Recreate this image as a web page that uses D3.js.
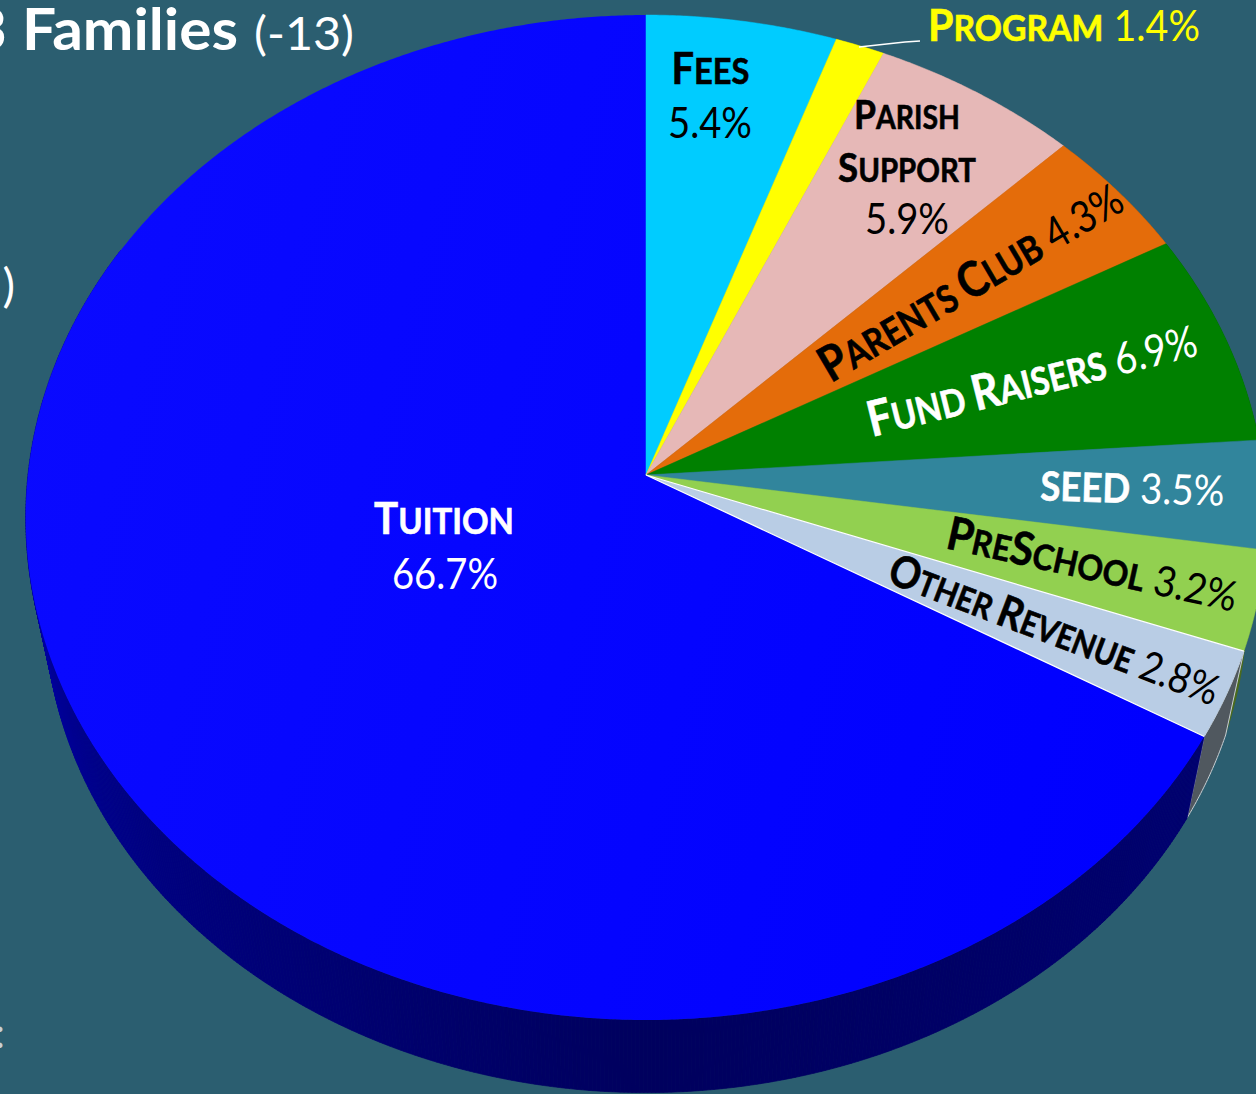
<!DOCTYPE html>
<html>
<head>
<meta charset="utf-8">
<script src="https://cdn.jsdelivr.net/npm/d3@7"></script>
<style>
html,body{margin:0;padding:0;background:#2b5e70;overflow:hidden}
svg{display:block}
text{font-family:Lato,"Open Sans",sans-serif}
.cap{text-transform:uppercase}
</style>
</head>
<body>
<svg id="c" width="1256" height="1094"></svg>
<script>
const categories = ["Fees","Program","Parish Support","Parents Club","Fund Raisers","SEED","PreSchool","Other Revenue","Tuition"];
const shares = [5.4,1.4,5.9,4.3,6.9,3.5,3.2,2.8,66.7];
const topColors = ["#00ccff","#ffff00","#e6b8b7","#e46c0a","#008000","#31859c","#92d050","#b9cde5","url(#tuitionFace)"];
const wallColors = ["#006680","#808000","#73605c","#723605","#004000","#194350","#4a6a1e","#50585f",null];
const edgeColors = [null,null,null,null,null,null,null,"#ffffff",null];

const W = 1256, H = 1094;
const svg = d3.select("#c");
svg.append("rect").attr("width",W).attr("height",H).attr("fill","#2b5e70");
const grad = svg.append("defs").append("linearGradient").attr("id","tuitionFace")
  .attr("gradientUnits","userSpaceOnUse").attr("x1",25).attr("x2",1200).attr("y1",300).attr("y2",600);
grad.append("stop").attr("offset",0).attr("stop-color","#0a0aff");
grad.append("stop").attr("offset",1).attr("stop-color","#0000ff");

/* Projection of the tilted disc (a perspective view of a unit circle). */
const cx = 646, apexY = 475, R = 618, k = 0.0846, b = -458.7;
const vp = [646, 3400], depth = 0.0305;
function upper(a, r = 1) {
  const u = r * Math.sin(a), v = r * Math.cos(a), w = 1 + k * v;
  return [cx + R * u / w, (apexY + b * v) / w];
}
function lower(a) {
  const p = upper(a);
  return [p[0] + (vp[0] - p[0]) * depth, p[1] + (vp[1] - p[1]) * depth];
}
const arcs = d3.pie().sort(null).value(d => d)(shares);
const line = d3.line();
const samples = (s, e) => {
  const n = Math.max(2, Math.ceil((e - s) / 0.006));
  return d3.range(n + 1).map(i => s + (e - s) * i / n);
};

/* Side walls */
const tuitionWall = d3.scaleLinear()
  .domain([2.1, 3.14, 4.0, 4.6, 5.0])
  .range(["#000070", "#00005e", "#000080", "#0000a4", "#0000c0"]);
const walls = svg.append("g");
arcs.forEach((d, i) => {
  if (wallColors[i]) {
    const as = samples(d.startAngle, d.endAngle);
    walls.append("path")
      .attr("d", line(as.map(a => upper(a)).concat(as.slice().reverse().map(lower))) + "Z")
      .attr("fill", wallColors[i])
      .attr("stroke", edgeColors[i] ? "#c8ced2" : "none")
      .attr("stroke-width", 1);
  } else {
    const as = samples(d.startAngle, Math.min(d.endAngle, 5.2));
    d3.pairs(as).forEach(([a0, a1]) => {
      walls.append("path")
        .attr("d", line([upper(a0), upper(a1), lower(a1), lower(a0)]) + "Z")
        .attr("fill", tuitionWall((a0 + a1) / 2))
        .attr("stroke", tuitionWall((a0 + a1) / 2))
        .attr("stroke-width", 0.7);
    });
  }
});

/* Top faces */
const face = svg.append("g");
const order = [8,0,1,2,3,4,5,6,7];
order.forEach(i => {
  const d = arcs[i];
  face.append("path")
    .attr("d", line([upper(0, 0)].concat(samples(d.startAngle, d.endAngle).map(a => upper(a)))) + "Z")
    .attr("fill", topColors[i])
    .attr("stroke", edgeColors[i] || i === 8 ? null : topColors[i])
    .attr("stroke-width", 0.5);
});
{
  const d = arcs[7], c = upper(0, 0);
  face.append("path")
    .attr("d", line([upper(d.startAngle), c, upper(d.endAngle)]))
    .attr("fill", "none").attr("stroke", "#ffffff").attr("stroke-width", 1.2);
}

/* Leader line for the Program slice */
svg.append("path").attr("d", d3.line().curve(d3.curveLinear)([[859,47],[905,42],[920,41]]))
  .attr("fill","none").attr("stroke","#ffffff").attr("stroke-width",1.6);

/* Labels: runs are [text, size, bold]; a run is drawn in capitals. */
const BIG = 44, SMALL = 36, NUM = 42;
function run(t, big, small) {
  // Capital letters stay large, lower-case ones become small capitals.
  return t.split(/(?<=[a-z ])(?=[A-Z])|(?<=[A-Z])(?=[a-z])/).map(s => [s, /^[A-Z]+$/.test(s) ? big : small, true]);
}
function label(g, x, y, rot, width, runs, fill) {
  const t = g.append("text").attr("text-anchor","start").attr("fill",fill);
  runs.forEach(([s, size, bold]) => {
    const sp = t.append("tspan").attr("class","cap").attr("font-size",size)
      .attr("font-weight", bold ? 700 : 400).style("white-space","pre").text(s);
    if (bold) sp.attr("stroke",fill).attr("stroke-width",0.6);
  });
  const len = t.node().getComputedTextLength();
  const sx = width / len;
  t.attr("transform", `translate(${x},${y}) rotate(${rot}) scale(${sx},1) translate(${-len/2},0)`);
  return t;
}
const lab = svg.append("g");
label(lab, 444, 534, 0, 140, run("Tuition",BIG,SMALL), "#fff");
label(lab, 445, 589, 0, 106, [["66.7%",NUM,false]], "#fff");
label(lab, 710.5, 84, 0, 78, run("Fees",BIG,SMALL), "#000");
label(lab, 710, 138, 0, 84, [["5.4%",NUM,false]], "#000");
label(lab, 1064, 41, 0, 272, run("Program",BIG,SMALL).concat([[" 1.4%",NUM,false]]), "#ffff00");
label(lab, 907, 129, 0, 106, run("Parish",40,32), "#000");
label(lab, 907, 182, 0, 138, run("Support",40,32), "#000");
label(lab, 907, 234, 0, 84, [["5.9%",NUM,false]], "#000");
label(lab, 979, 296, -30.5, 344, run("Parents Club",49,38).concat([[" 4.3%",NUM+2,false]]), "#000");
label(lab, 1036, 396, -14, 338, run("Fund Raisers",49,38).concat([[" 6.9%",NUM+2,false]]), "#fff");
label(lab, 1132, 503, 1.7, 184, [["SEED",40,true],[" 3.5%",NUM,false]], "#fff");
label(lab, 1089, 580, 12.5, 296, [["P",46,true],["re",35,true],["S",46,true],["chool",35,true],[" 3.2%",NUM,false]], "#000");
label(lab, 1049, 644, 20.8, 350, run("Other Revenue",44,34).concat([[" 2.8%",NUM,false]]), "#000");

/* Text of the slide behind the chart, cut by the picture edge */
const slide = svg.append("g").attr("fill","#fff");
slide.append("text").attr("x",7).attr("y",50).attr("text-anchor","end").attr("font-size",58).attr("font-weight",700).text("3");
slide.append("text").attr("x",22).attr("y",50).attr("font-size",58).attr("font-weight",700).attr("textLength",216).attr("lengthAdjust","spacingAndGlyphs").text("Families");
slide.append("text").attr("x",254).attr("y",50).attr("font-size",47).attr("textLength",100).attr("lengthAdjust","spacingAndGlyphs").text("(-13)");
slide.append("text").attr("x",15).attr("y",302).attr("text-anchor","end").attr("font-size",47).text(")");
slide.append("text").attr("x",5).attr("y",1048).attr("text-anchor","end").attr("font-size",42).attr("fill","#c8d0d4").text(":");
</script>
</body>
</html>
